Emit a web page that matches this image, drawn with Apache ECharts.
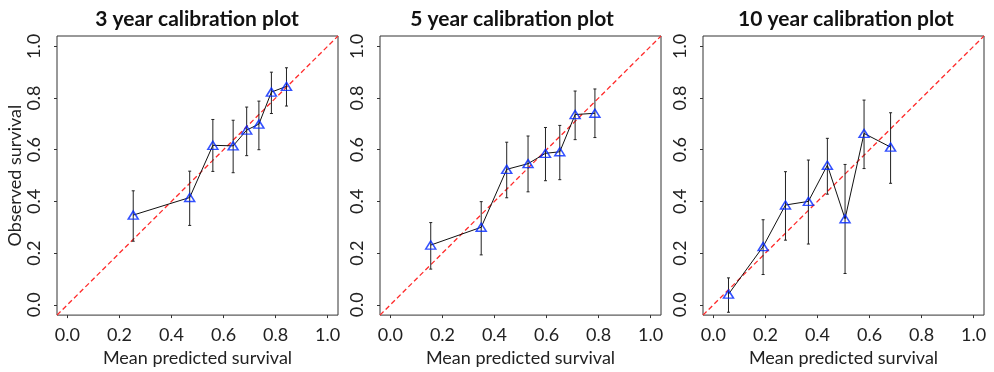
<!DOCTYPE html>
<html>
<head>
<meta charset="utf-8">
<script src="https://cdn.jsdelivr.net/npm/echarts@6/dist/echarts.min.js"></script>
<style>
  html, body { margin: 0; padding: 0; background: #fff; }
  #coolgraph { width: 994px; height: 372px; }
</style>
</head>
<body>
<div id="coolgraph"></div>
<script>
var chartDom = document.getElementById('coolgraph');
var myChart = echarts.init(chartDom);
var option;

var titles = ['3 year calibration plot', '5 year calibration plot', '10 year calibration plot'];
var tickValues = [0, 0.2, 0.4, 0.6, 0.8, 1.0];
var axisRange = [-0.04, 1.04];

// 3 year
var pred3 = [0.253, 0.470, 0.559, 0.637, 0.689, 0.736, 0.784, 0.842];
var obs3 = [0.347, 0.415, 0.617, 0.615, 0.676, 0.699, 0.823, 0.845];
var lo3 = [0.246, 0.307, 0.516, 0.511, 0.577, 0.600, 0.740, 0.769];
var hi3 = [0.441, 0.517, 0.717, 0.714, 0.765, 0.788, 0.900, 0.917];

// 5 year
var pred5 = [0.155, 0.349, 0.447, 0.529, 0.596, 0.651, 0.710, 0.786];
var obs5 = [0.231, 0.300, 0.524, 0.546, 0.586, 0.592, 0.736, 0.741];
var lo5 = [0.138, 0.193, 0.414, 0.437, 0.480, 0.484, 0.639, 0.647];
var hi5 = [0.318, 0.399, 0.629, 0.653, 0.686, 0.694, 0.827, 0.835];

// 10 year
var pred10 = [0.058, 0.191, 0.277, 0.365, 0.438, 0.506, 0.579, 0.681];
var obs10 = [0.041, 0.225, 0.386, 0.400, 0.540, 0.333, 0.663, 0.610];
var lo10 = [-0.029, 0.117, 0.250, 0.235, 0.428, 0.121, 0.527, 0.470];
var hi10 = [0.104, 0.329, 0.515, 0.560, 0.644, 0.543, 0.792, 0.743];

var panels = [
  { pred: pred3, obs: obs3, lo: lo3, hi: hi3 },
  { pred: pred5, obs: obs5, lo: lo5, hi: hi5 },
  { pred: pred10, obs: obs10, lo: lo10, hi: hi10 }
];

var gridLefts = [57, 380, 703];
var titleCenters = [192, 507, 841];
var FONT = 'Lato';

function zip(a, b) {
  return a.map(function (v, i) { return [v, b[i]]; });
}

var grids = [], xAxes = [], yAxes = [], series = [], titleList = [];

panels.forEach(function (p, k) {
  grids.push({
    left: gridLefts[k], top: 36, width: 281, height: 283,
    show: true, borderColor: '#333', borderWidth: 1, backgroundColor: '#fff'
  });
  titleList.push({
    text: titles[k],
    left: titleCenters[k], top: 4, textAlign: 'center',
    textStyle: { fontFamily: FONT, fontSize: 21, fontWeight: 'bold', color: '#111' }
  });
  xAxes.push({
    gridIndex: k, type: 'value', min: axisRange[0], max: axisRange[1],
    name: 'Mean predicted survival', nameLocation: 'middle', nameGap: 28,
    nameTextStyle: { fontFamily: FONT, fontSize: 18, color: '#222' },
    axisLine: { show: false, onZero: false },
    axisTick: { show: true, length: 3, customValues: tickValues, lineStyle: { color: '#333' } },
    axisLabel: {
      customValues: tickValues, margin: 11, fontFamily: FONT, fontSize: 18, color: '#222',
      formatter: function (v) { return v.toFixed(1); }
    },
    splitLine: { show: false }
  });
  yAxes.push({
    gridIndex: k, type: 'value', min: axisRange[0], max: axisRange[1],
    name: k === 0 ? 'Observed survival' : '', nameLocation: 'middle', nameGap: 31, nameRotate: 90,
    nameTextStyle: { fontFamily: FONT, fontSize: 18, color: '#222' },
    axisLine: { show: false, onZero: false },
    axisTick: { show: true, length: 3, customValues: tickValues, lineStyle: { color: '#333' } },
    axisLabel: {
      customValues: tickValues, rotate: 90, margin: 14, fontFamily: FONT, fontSize: 18, color: '#222',
      formatter: function (v) { return v.toFixed(1); }
    },
    splitLine: { show: false }
  });

  // diagonal reference line (corner to corner)
  series.push({
    type: 'custom', xAxisIndex: k, yAxisIndex: k, silent: true, z: 1,
    data: [[axisRange[0], axisRange[0], axisRange[1], axisRange[1]]],
    renderItem: function (params, api) {
      var a = api.coord([api.value(0), api.value(1)]);
      var b = api.coord([api.value(2), api.value(3)]);
      return {
        type: 'line',
        shape: { x1: a[0], y1: a[1], x2: b[0], y2: b[1] },
        style: { stroke: '#ff2a2a', lineWidth: 1.3, lineDash: [5, 3] }
      };
    }
  });

  // error bars
  series.push({
    type: 'custom', xAxisIndex: k, yAxisIndex: k, silent: true, z: 2,
    data: p.pred.map(function (x, i) { return [x, p.lo[i], p.hi[i]]; }),
    renderItem: function (params, api) {
      var lo = api.coord([api.value(0), api.value(1)]);
      var hi = api.coord([api.value(0), api.value(2)]);
      var st = { stroke: '#222', lineWidth: 1 };
      return {
        type: 'group',
        children: [
          { type: 'line', shape: { x1: lo[0], y1: lo[1], x2: hi[0], y2: hi[1] }, style: st },
          { type: 'line', shape: { x1: lo[0] - 1.5, y1: lo[1], x2: lo[0] + 1.5, y2: lo[1] }, style: st },
          { type: 'line', shape: { x1: hi[0] - 1.5, y1: hi[1], x2: hi[0] + 1.5, y2: hi[1] }, style: st }
        ]
      };
    }
  });

  // connecting line
  series.push({
    type: 'line', xAxisIndex: k, yAxisIndex: k, silent: true, showSymbol: false,
    data: zip(p.pred, p.obs), lineStyle: { color: '#111', width: 1 }, z: 3
  });

  // triangles
  series.push({
    type: 'scatter', xAxisIndex: k, yAxisIndex: k, silent: true,
    data: zip(p.pred, p.obs), symbol: 'triangle', symbolSize: [10, 8],
    itemStyle: { color: 'rgba(0,0,0,0)', borderColor: '#0026ff', borderWidth: 1.5 }, z: 4
  });
});

option = {
  backgroundColor: '#fff',
  animation: false,
  title: titleList,
  grid: grids,
  xAxis: xAxes,
  yAxis: yAxes,
  series: series
};

option && myChart.setOption(option);
</script>
</body>
</html>
